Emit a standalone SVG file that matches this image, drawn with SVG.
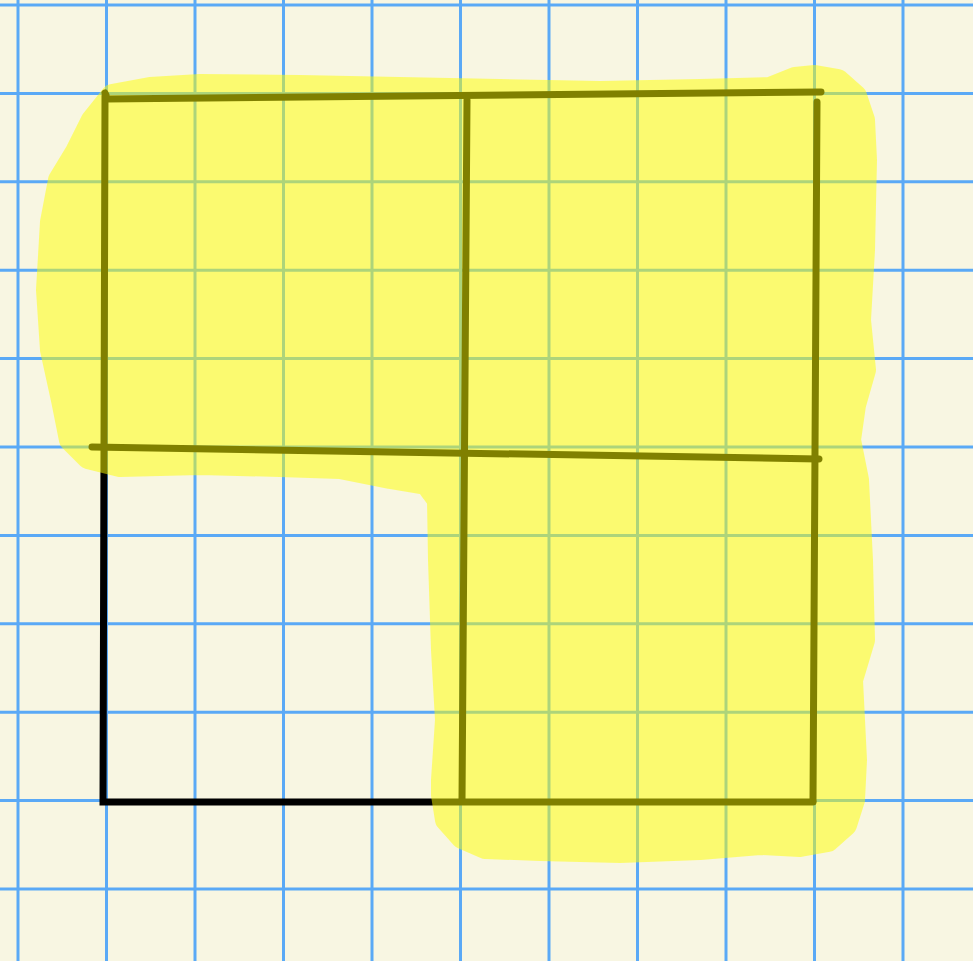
<svg xmlns="http://www.w3.org/2000/svg" width="973" height="961" viewBox="0 0 973 961">
<style>
.grid line{stroke:#5aa9f6;stroke-width:3}
.pen{stroke:#000;stroke-width:7;stroke-linecap:round;fill:none}
.hl{fill:#ffff00;stroke:#ffff00;stroke-width:22;stroke-linejoin:round}
</style>
<rect width="973" height="961" fill="#f8f6e2"/>
<g id="grid" class="grid">
<line x1="18" y1="0" x2="18" y2="961"/>
<line x1="106.5" y1="0" x2="106.5" y2="961"/>
<line x1="195" y1="0" x2="195" y2="961"/>
<line x1="283.5" y1="0" x2="283.5" y2="961"/>
<line x1="372" y1="0" x2="372" y2="961"/>
<line x1="460.5" y1="0" x2="460.5" y2="961"/>
<line x1="549" y1="0" x2="549" y2="961"/>
<line x1="637.5" y1="0" x2="637.5" y2="961"/>
<line x1="726" y1="0" x2="726" y2="961"/>
<line x1="814.5" y1="0" x2="814.5" y2="961"/>
<line x1="903" y1="0" x2="903" y2="961"/>
<line x1="0" y1="5" x2="973" y2="5"/>
<line x1="0" y1="93.4" x2="973" y2="93.4"/>
<line x1="0" y1="181.8" x2="973" y2="181.8"/>
<line x1="0" y1="270.2" x2="973" y2="270.2"/>
<line x1="0" y1="358.6" x2="973" y2="358.6"/>
<line x1="0" y1="447" x2="973" y2="447"/>
<line x1="0" y1="535.4" x2="973" y2="535.4"/>
<line x1="0" y1="623.8" x2="973" y2="623.8"/>
<line x1="0" y1="712.2" x2="973" y2="712.2"/>
<line x1="0" y1="800.6" x2="973" y2="800.6"/>
<line x1="0" y1="889" x2="973" y2="889"/>
</g>
<g id="strokes" class="pen">
<line x1="105" y1="93" x2="106" y2="95"/>
<path d="M106 99 L821 92"/>
<path d="M105 96 L103 802 L813 802"/>
<path d="M92 447 L819 459"/>
<path d="M467 100 L462 801"/>
<path d="M817 102 L813 801"/>
</g>
<g id="highlight" opacity="0.5">
<path class="hl" d="M112 95 L150 88 L200 85 L300 86 L400 88 L500 90 L600 92 L700 90 L770 88 L795 78 L815 76 L838 80 L856 96 L864 120 L866 160 L864 250 L860 320 L865 370 L855 405 L850 440 L858 480 L862 560 L864 640 L852 680 L856 760 L854 800 L846 825 L828 841 L800 846 L760 844 L700 849 L620 852 L540 850 L485 848 L462 838 L446 820 L442 795 L442 780 L446 720 L442 650 L439 560 L438 500 L426 484 L390 478 L340 468 L280 466 L200 464 L120 466 L88 458 L70 440 L62 400 L51 350 L47 290 L51 222 L59 180 L76 152 L92 120 Z"/>
</g>
</svg>
